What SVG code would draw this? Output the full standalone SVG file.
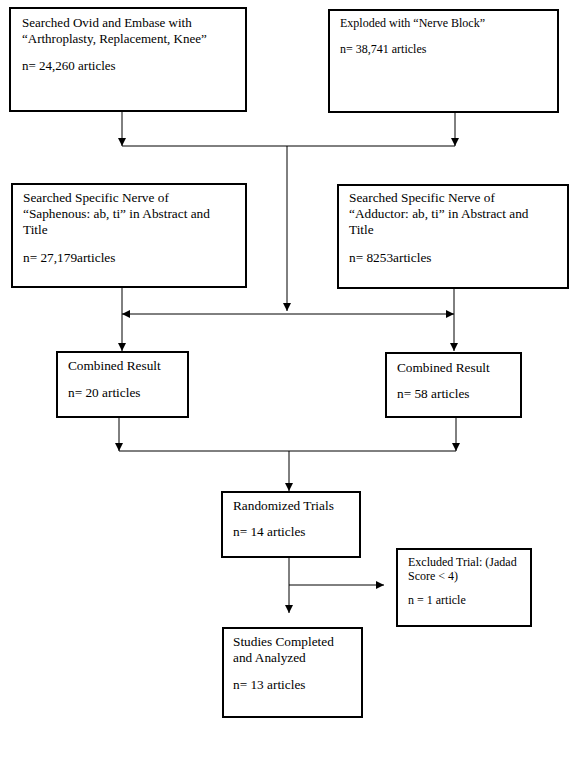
<svg xmlns="http://www.w3.org/2000/svg" width="572" height="758" viewBox="0 0 572 758">
<defs>
<marker id="ah" markerUnits="userSpaceOnUse" markerWidth="9" markerHeight="8" refX="8" refY="4" orient="auto">
<path d="M0,0 L8,4 L0,8 z" fill="#000"/>
</marker>
<style>
.box{fill:#fff;stroke:#000;stroke-width:2}
.t{font-family:"Liberation Serif","Times New Roman",serif;font-size:13.3px;fill:#000}
.big{font-size:13px}
.md{font-size:12px}
.sm{font-size:12px}
.c{fill:none;stroke:#000;stroke-width:1}
.a{fill:none;stroke:#000;stroke-width:1;marker-end:url(#ah)}
</style>
</defs>
<rect width="572" height="758" fill="#fff"/>
<g id="connectors">
<line class="a" x1="122" y1="111" x2="122" y2="146"/>
<line class="a" x1="455" y1="112" x2="455" y2="146"/>
<line class="c" x1="122" y1="146" x2="455" y2="146"/>
<line class="a" x1="287" y1="146" x2="287" y2="311"/>
<line class="a" x1="287" y1="314" x2="122" y2="314"/>
<line class="a" x1="287" y1="314" x2="454" y2="314"/>
<line class="a" x1="122" y1="287" x2="122" y2="351"/>
<line class="a" x1="454" y1="288" x2="454" y2="351"/>
<line class="a" x1="119" y1="417" x2="119" y2="451"/>
<line class="a" x1="456" y1="417" x2="456" y2="451"/>
<line class="c" x1="119" y1="451" x2="456" y2="451"/>
<line class="a" x1="289" y1="451" x2="289" y2="491"/>
<line class="a" x1="289" y1="557" x2="289" y2="613"/>
<line class="a" x1="289" y1="585" x2="384" y2="585"/>
</g>
<g id="search-ovid">
<rect class="box" x="10" y="8" width="236" height="103"/>
<text class="t big" x="22" y="27">Searched Ovid and Embase with</text>
<text class="t big" x="22" y="43">“Arthroplasty, Replacement, Knee”</text>
<text class="t big" x="22" y="70">n= 24,260 articles</text>
</g>
<g id="nerve-block">
<rect class="box" x="329" y="10" width="229" height="102"/>
<text class="t md" x="340" y="27">Exploded with “Nerve Block”</text>
<text class="t md" x="340" y="53">n= 38,741 articles</text>
</g>
<g id="saphenous">
<rect class="box" x="12" y="184" width="234" height="103"/>
<text class="t" x="23" y="202">Searched Specific Nerve of</text>
<text class="t" x="23" y="218">“Saphenous: ab, ti” in Abstract and</text>
<text class="t" x="23" y="234">Title</text>
<text class="t" x="23" y="262">n= 27,179articles</text>
</g>
<g id="adductor">
<rect class="box" x="338" y="185" width="230" height="103"/>
<text class="t" x="349" y="202">Searched Specific Nerve of</text>
<text class="t" x="349" y="218">“Adductor: ab, ti” in Abstract and</text>
<text class="t" x="349" y="234">Title</text>
<text class="t" x="349" y="262">n= 8253articles</text>
</g>
<g id="combined-left">
<rect class="box" x="57" y="352" width="131" height="65"/>
<text class="t" x="68" y="370">Combined Result</text>
<text class="t" x="68" y="397">n= 20 articles</text>
</g>
<g id="combined-right">
<rect class="box" x="386" y="353" width="135" height="64"/>
<text class="t" x="397" y="372">Combined Result</text>
<text class="t" x="397" y="398">n= 58 articles</text>
</g>
<g id="randomized">
<rect class="box" x="222" y="492" width="138" height="65"/>
<text class="t" x="233" y="510">Randomized Trials</text>
<text class="t" x="233" y="536">n= 14 articles</text>
</g>
<g id="excluded">
<rect class="box" x="397" y="549" width="134" height="77"/>
<text class="t sm" x="408" y="566">Excluded Trial:  (Jadad</text>
<text class="t sm" x="408" y="580">Score &lt; 4)</text>
<text class="t sm" x="408" y="604">n = 1 article</text>
</g>
<g id="studies">
<rect class="box" x="223" y="628" width="139" height="89"/>
<text class="t" x="233" y="646">Studies Completed</text>
<text class="t" x="233" y="662">and Analyzed</text>
<text class="t" x="233" y="689">n= 13 articles</text>
</g>
</svg>
